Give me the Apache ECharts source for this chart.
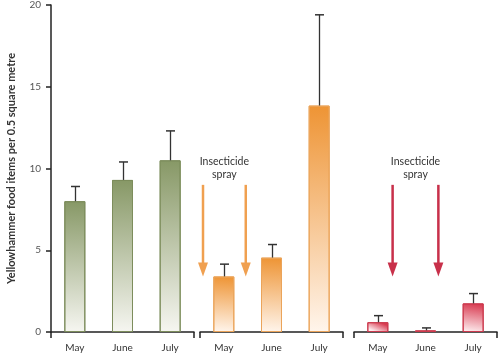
<!DOCTYPE html>
<html><head><meta charset="utf-8">
<script src="https://cdn.jsdelivr.net/npm/echarts@6/dist/echarts.min.js"></script>
<style>html,body{margin:0;padding:0;background:#fff}#c{width:500px;height:355px}</style>
</head><body><div id="c"></div>
<script>
const months = ['May', 'June', 'July'];
const controlMean = [8.0, 9.3, 10.5];
const controlUpper = [8.9, 10.4, 12.3];
const spray1Mean = [3.4, 4.55, 13.85];
const spray1Upper = [4.15, 5.35, 19.4];
const spray2Mean = [0.6, 0.1, 1.75];
const spray2Upper = [1.0, 0.25, 2.35];
const yMin = 0, yMax = 20, yStep = 5;
const yTitle = 'Yellowhammer food items per 0.5 square metre';
const sprayLabel = 'Insecticide\nspray';
// arrow positions as fraction along each group's axis, and value range
const orangeArrowX = [0.021, 0.32];
const redArrowX = [0.27, 0.59];
const arrowTop = 9.0, arrowTip = 3.4, labelTop = 10.8;

const FONT = 'Lato';
const groups = [
  {mean: controlMean, upper: controlUpper, top: '#879866', bottom: '#f6f6f1', border: '#7d8d5c'},
  {mean: spray1Mean, upper: spray1Upper, top: '#ee9434', bottom: '#fff5ec', border: '#eba45a'},
  {mean: spray2Mean, upper: spray2Upper, top: '#d83a50', bottom: '#fdecee', border: '#cc3a4e'}
];
const lefts = [51, 200, 354];
const W = 143;

const chart = echarts.init(document.getElementById('c'), null, {renderer: 'canvas'});
const grid = lefts.map(l => ({left: l, width: W, top: 5, bottom: 23, containLabel: false}));
const xAxis = [];
lefts.forEach((l, i) => xAxis.push({
  type: 'category', gridIndex: i, data: months,
  axisLine: {show: false}, axisTick: {show: false},
  axisLabel: {color: '#333', fontFamily: FONT, fontSize: 10, margin: 11}
}));
lefts.forEach((l, i) => xAxis.push({
  type: 'value', gridIndex: i, min: 0, max: 1, interval: 1, position: 'bottom',
  axisLine: {show: true, lineStyle: {color: '#222', width: 1.5}},
  axisTick: {show: true, length: 6, lineStyle: {color: '#222', width: 1.5}},
  axisLabel: {show: false}, splitLine: {show: false}
}));
const yAxis = lefts.map((l, i) => ({
  type: 'value', gridIndex: i, min: yMin, max: yMax, interval: yStep,
  show: i === 0, offset: 7,
  name: i === 0 ? yTitle : '', nameLocation: 'middle', nameGap: 27,
  nameTextStyle: {fontFamily: FONT, fontSize: 11, fontWeight: 'bold', color: '#333'},
  axisLine: {show: true, lineStyle: {color: '#222', width: 1.5}},
  axisTick: {show: true, length: 5, lineStyle: {color: '#222', width: 1.5}},
  axisLabel: {color: '#555', fontFamily: FONT, fontSize: 10, margin: 3},
  splitLine: {show: false}
}));
const series = [];
groups.forEach((g, i) => {
  series.push({
    type: 'bar', xAxisIndex: i, yAxisIndex: i, barWidth: 21, data: g.mean,
    itemStyle: {
      color: new echarts.graphic.LinearGradient(0.6, 0, 0.4, 1, [
        {offset: 0, color: g.top}, {offset: 1, color: g.bottom}]),
      borderColor: g.border, borderWidth: 1
    }
  });
  series.push({
    type: 'custom', xAxisIndex: i, yAxisIndex: i, z: 5,
    data: g.mean.map((m, k) => [k, m, g.upper[k]]),
    renderItem: function (params, api) {
      const p0 = api.coord([api.value(0), api.value(1)]);
      const p1 = api.coord([api.value(0), api.value(2)]);
      const x = Math.round(p0[0]) + 0.5;
      return {type: 'group', children: [
        {type: 'line', shape: {x1: x, y1: p0[1], x2: x, y2: p1[1]}, style: {stroke: '#333', lineWidth: 1.3}},
        {type: 'line', shape: {x1: x - 4.5, y1: p1[1], x2: x + 4.5, y2: p1[1]}, style: {stroke: '#333', lineWidth: 1.5}}
      ]};
    }
  });
});
chart.setOption({animation: false, grid, xAxis, yAxis, series});

function arrows(gi, xs, color) {
  const els = [];
  const yTop = chart.convertToPixel({yAxisIndex: gi}, arrowTop);
  const yTip = chart.convertToPixel({yAxisIndex: gi}, arrowTip);
  const px = xs.map(f => chart.convertToPixel({xAxisIndex: 3 + gi}, f));
  px.forEach(x => {
    els.push({type: 'line', shape: {x1: x, y1: yTop, x2: x, y2: yTip - 12}, style: {stroke: color, lineWidth: 2.5}});
    els.push({type: 'polygon', shape: {points: [[x - 5, yTip - 14], [x + 5, yTip - 14], [x, yTip]]}, style: {fill: color}});
  });
  const cx = (px[0] + px[1]) / 2;
  els.push({type: 'text', x: cx, y: chart.convertToPixel({yAxisIndex: gi}, labelTop),
    style: {text: sprayLabel, fill: '#333', font: '10.5px ' + FONT, align: 'center', verticalAlign: 'top', lineHeight: 13}});
  return els;
}
chart.setOption({graphic: [].concat(arrows(1, orangeArrowX, '#f0a050'), arrows(2, redArrowX, '#c8304a'))});
</script></body></html>
